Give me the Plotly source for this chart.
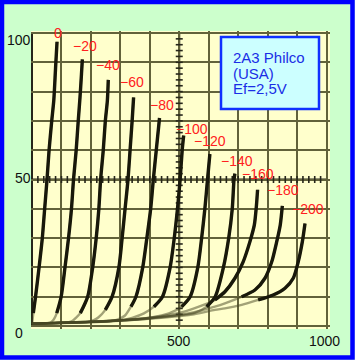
import plotly.graph_objects as go

# ---------------- data ----------------
GRID_VOLTS = [0, -20, -40, -60, -80, -100, -120, -140, -160, -180, -200]
CURVE_LABELS = ["0", "−20", "−40", "−60", "−80", "−100", "−120", "−140", "−160", "−180", "−200"]

va_0 = [0, 4.5, 12, 24, 35, 43, 51, 58, 67, 74, 80, 85]
ia_0 = [0.5, 4.4, 10, 20, 30, 40, 50, 60, 70, 77, 88, 97]

va_20 = [0, 40, 62, 70, 76, 84, 99, 112, 124, 134, 141, 150, 157, 163, 168, 171]
ia_20 = [0.8, 0.9, 1.2, 1.8, 2.6, 4.4, 10, 20, 30, 40, 50, 60, 70, 78, 86, 91]

va_40 = [0, 80, 125, 138, 147, 164, 189, 206, 218, 227, 233, 242, 249, 256, 259]
ia_40 = [0.8, 1.0, 1.3, 1.8, 2.6, 4.4, 10, 20, 30, 40, 50, 60, 70, 77, 84]

va_60 = [0, 120, 190, 210, 226, 249, 272, 295, 306, 316, 326, 333, 340, 345]
ia_60 = [0.8, 1.1, 1.4, 2.0, 3.0, 5.5, 10, 20, 30, 40, 50, 60, 70, 78]

va_80 = [0, 150, 260, 290, 315, 336, 353, 376, 390, 403, 412, 422, 433]
ia_80 = [0.8, 1.2, 1.6, 2.2, 3.5, 6.6, 10, 20, 30, 40, 50, 60, 71]

va_100 = [0, 180, 300, 340, 380, 414, 443, 469, 483, 494, 503, 510, 515]
ia_100 = [0.8, 1.3, 1.9, 2.8, 4.3, 6.6, 10, 20, 30, 40, 50, 60, 65]

va_120 = [0, 200, 350, 410, 465, 508, 537, 563, 576, 587, 596, 604]
ia_120 = [0.8, 1.4, 2.2, 3.0, 4.3, 6.6, 10, 20, 30, 40, 50, 58.7]

va_140 = [0, 220, 380, 460, 553, 593, 622, 650, 668, 680, 686, 689]
ia_140 = [0.8, 1.5, 2.4, 3.2, 4.5, 6.6, 10, 20, 30, 40, 50, 52]

va_160 = [0, 240, 400, 520, 621, 655, 689, 717, 740, 755, 762, 766]
ia_160 = [0.8, 1.6, 2.8, 5.0, 8.9, 11.7, 16.3, 21.9, 28.8, 34.5, 41, 46.5]

va_180 = [0, 260, 420, 530, 621, 655, 712, 757, 791, 814, 831, 843, 850]
ia_180 = [0.8, 1.7, 2.9, 4.3, 6.6, 7.7, 10, 12.3, 16.3, 21.9, 28.8, 34.5, 41]

va_200 = [0, 280, 450, 550, 621, 655, 712, 768, 819, 859, 887, 904, 918, 927]
ia_200 = [0.8, 1.8, 2.9, 4.0, 5.5, 6.0, 7.2, 8.9, 10.6, 12.9, 16.3, 21.9, 28.8, 35]

X_TICK_LABELS = ["500", "1000"]
Y_TICK_LABELS = ["0", "50", "100"]
INFO_LINES = ["2A3 Philco", "(USA)", "Ef=2,5V"]

CURVES = [(va_0, ia_0), (va_20, ia_20), (va_40, ia_40), (va_60, ia_60),
          (va_80, ia_80), (va_100, ia_100), (va_120, ia_120), (va_140, ia_140),
          (va_160, ia_160), (va_180, ia_180), (va_200, ia_200)]

# ---------------- layout geometry / style ----------------
W, H = 355, 360
ML, MR, MT, MB = 31, 25, 31, 31
PW, PH = W - ML - MR, H - MT - MB
X_RANGE = [-3.4, 1011.9]
Y_RANGE = [-1.02, 100.68]

def pxx(px):
    return (px - ML) / PW

def pxy(py):
    return 1 - (py - MT) / PH

# label offsets (pixels) relative to the top end of each curve
LABEL_SHIFT = [(1, 9), (3, 13), (0, 14.5), (-2, 15), (2, 12.5), (8, 7),
               (0, 13), (2, 13), (0, 16), (1, 16), (3, 14)]
# current above which each curve is drawn as a dark heavy trace
DARK_FROM = [4, 4, 4, 5, 6, 6, 6, 6, 8, 8, 8.5]
GRID_COLOR = "#62623a"
AXIS_COLOR = "#26261a"

fig = go.Figure()

# center-axis tick marks
tick_v = list(range(20, 1000, 20))
tick_i = list(range(2, 100, 2))
fig.add_trace(go.Scatter(x=tick_v, y=[50] * len(tick_v), mode="markers",
                         marker=dict(symbol="line-ns", size=5,
                                     line=dict(width=1.6, color=AXIS_COLOR)),
                         hoverinfo="skip", showlegend=False))
fig.add_trace(go.Scatter(x=[500] * len(tick_i), y=tick_i, mode="markers",
                         marker=dict(symbol="line-ew", size=5,
                                     line=dict(width=1.6, color=AXIS_COLOR)),
                         hoverinfo="skip", showlegend=False))

for (va, ia) in CURVES:
    fig.add_trace(go.Scatter(x=va, y=ia, mode="lines",
                             line=dict(color="rgba(70,70,34,0.5)", width=2.4,
                                       shape="spline", smoothing=0.7),
                             hoverinfo="skip", showlegend=False))
for (va, ia), lim in zip(CURVES, DARK_FROM):
    k = min(i for i, v in enumerate(ia) if v >= lim)
    fig.add_trace(go.Scatter(x=va[k:], y=ia[k:], mode="lines",
                             line=dict(color="#18180a", width=3.4, shape="spline", smoothing=0.7),
                             hoverinfo="skip", showlegend=False))

annotations = []
for (va, ia), lab, (dx, dy) in zip(CURVES, CURVE_LABELS, LABEL_SHIFT):
    annotations.append(dict(x=va[-1], y=ia[-1], xref="x", yref="y", text=lab,
                            showarrow=False, xanchor="center", yanchor="middle",
                            xshift=dx, yshift=dy,
                            font=dict(family="Liberation Sans, Arial", size=14, color="#ff2020")))

# axis labels
y_lab_px = [(18.5, 333), (22.5, 178), (18.5, 40)]
for lab, (px, py) in zip(Y_TICK_LABELS, y_lab_px):
    annotations.append(dict(x=pxx(px), y=pxy(py), xref="paper", yref="paper", text=lab,
                            showarrow=False, xanchor="center", yanchor="middle",
                            font=dict(family="Liberation Sans, Arial", size=14, color="#111111")))
x_lab_px = [(179, 341), (324, 341)]
for lab, (px, py) in zip(X_TICK_LABELS, x_lab_px):
    annotations.append(dict(x=pxx(px), y=pxy(py), xref="paper", yref="paper", text=lab,
                            showarrow=False, xanchor="center", yanchor="middle",
                            font=dict(family="Liberation Sans, Arial", size=14, color="#111111")))

# info box text
for lab, py in zip(INFO_LINES, [57.5, 73, 88.5]):
    annotations.append(dict(x=pxx(231), y=pxy(py), xref="paper", yref="paper", text=lab,
                            showarrow=False, xanchor="left", yanchor="middle",
                            font=dict(family="Liberation Sans, Arial", size=15, color="#1a2ee6")))

shapes = [
    # center axes
    dict(type="line", xref="x", yref="y", x0=500, x1=500, y0=0, y1=100,
         line=dict(color=AXIS_COLOR, width=2), layer="below"),
    dict(type="line", xref="x", yref="y", x0=0, x1=1000, y0=50, y1=50,
         line=dict(color=AXIS_COLOR, width=2), layer="below"),
    # plot frame edges
    dict(type="line", xref="x", yref="y", x0=0, x1=0, y0=0, y1=100,
         line=dict(color=AXIS_COLOR, width=2), layer="below"),
    dict(type="line", xref="x", yref="y", x0=0, x1=1000, y0=0, y1=0,
         line=dict(color=AXIS_COLOR, width=2), layer="below"),
    # info box
    dict(type="rect", xref="paper", yref="paper", x0=pxx(221), x1=pxx(319),
         y0=pxy(109), y1=pxy(37), fillcolor="#ccffff",
         line=dict(color="#1030ff", width=2.5), layer="above"),
    # outer blue border
    dict(type="rect", xref="paper", yref="paper", x0=pxx(2), x1=pxx(W - 2.5),
         y0=pxy(H - 2.5), y1=pxy(2), line=dict(color="#0000ff", width=4.5),
         fillcolor="rgba(0,0,0,0)", layer="above"),
]

fig.update_layout(
    width=W, height=H,
    margin=dict(l=ML, r=MR, t=MT, b=MB, pad=0),
    paper_bgcolor="#ccffcc", plot_bgcolor="#ffffcc",
    showlegend=False,
    annotations=annotations, shapes=shapes,
    xaxis=dict(range=X_RANGE, tick0=0, dtick=100, showgrid=True,
               gridcolor=GRID_COLOR, gridwidth=1.6, zeroline=False,
               showticklabels=False, ticks="", fixedrange=True),
    yaxis=dict(range=Y_RANGE, tick0=0, dtick=10, showgrid=True,
               gridcolor=GRID_COLOR, gridwidth=1.6, zeroline=False,
               showticklabels=False, ticks="", fixedrange=True),
)

fig.write_html("out.html", config={"displayModeBar": False},
               post_script="document.body.style.margin='0';document.body.style.overflow='hidden';")
